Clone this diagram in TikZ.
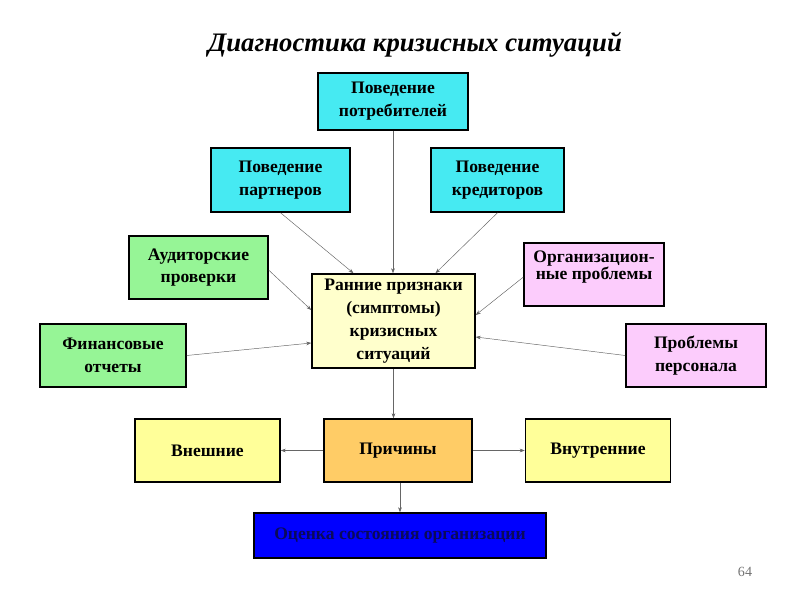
\documentclass[tikz,border=0pt]{standalone}
\usepackage{fontspec}
\setmainfont{Liberation Serif}
\usetikzlibrary{arrows.meta}

\definecolor{cyanbox}{RGB}{70,234,242}
\definecolor{greenbox}{RGB}{150,245,150}
\definecolor{pinkbox}{RGB}{252,204,252}
\definecolor{paleyellow}{RGB}{255,255,204}
\definecolor{yellowbox}{RGB}{255,255,153}
\definecolor{orangebox}{RGB}{255,204,102}
\definecolor{navytext}{RGB}{10,10,90}

\begin{document}
\begin{tikzpicture}[x=0.03cm, y=-0.03cm,
  box/.style={draw, line width=1.3pt, align=center, inner sep=2pt,
              font=\bfseries\fontsize{15}{19.5}\selectfont},
  beh/.style={box, fill=cyanbox},
  chk/.style={box, fill=greenbox},
  prob/.style={box, fill=pinkbox},
  side/.style={box, fill=yellowbox, minimum width=4.35cm, minimum height=1.89cm},
  arr/.style={-{Stealth[length=1.5mm, width=1.1mm]}, draw=black!60, thin}]
\useasboundingbox (0,0) rectangle (800,600);
% title
\node[font=\bfseries\itshape\fontsize{22.8}{27}\selectfont] (title) at (415,45) {Диагностика кризисных ситуаций};
% sources of signals
\node[beh, minimum width=4.5cm, minimum height=1.71cm] (potr) at (393,101.5) {Поведение\\потребителей};
\node[beh, minimum width=4.17cm, minimum height=1.92cm] (partn) at (280.5,180) {Поведение\\партнеров};
\node[beh, minimum width=3.99cm, minimum height=1.92cm] (kred) at (497.5,180) {Поведение\\кредиторов};
\node[chk, minimum width=4.17cm, minimum height=1.89cm] (audit) at (198.5,267.5) {Аудиторские\\проверки};
\node[chk, minimum width=4.38cm, minimum height=1.89cm] (fin) at (113,355.5) {Финансовые\\отчеты};
\node[prob, minimum width=4.2cm, minimum height=1.89cm, text depth=16pt] (org) at (594,274.5) {Организацион-\\[-5pt]ные проблемы};
\node[prob, minimum width=4.2cm, minimum height=1.89cm] (pers) at (696,355.5) {Проблемы\\персонала};
% centre
\node[box, fill=paleyellow, minimum width=4.89cm, minimum height=2.82cm] (symp) at (393.5,321) {Ранние признаки\\(симптомы)\\кризисных\\ситуаций};
% causes
\node[box, fill=orangebox, minimum width=4.44cm, minimum height=1.89cm] (prich) at (398,450.5) {Причины};
\node[side] (vnesh) at (207.5,450.5) {Внешние};
\node[side] (vnutr) at (598,450.5) {Внутренние};
\node[box, fill=blue, text=navytext, minimum width=8.76cm, minimum height=1.35cm] (ocenka) at (400,535.5) {Оценка состояния организации};
\node[text=black!55, font=\fontsize{12}{14}\selectfont] (page) at (745,572) {64};
% connectors
\draw[arr] (potr.south) -- (potr.south |- symp.north);
\draw[arr] (partn.south) -- ([xshift=-1.2cm]symp.north);
\draw[arr] (kred.south) -- ([xshift=1.26cm]symp.north);
\draw[arr] ([yshift=-0.08cm]audit.east) -- ([yshift=0.33cm]symp.west);
\draw[arr] (fin.east) -- ([yshift=-0.66cm]symp.west);
\draw[arr] ([yshift=-0.08cm]org.west) -- ([yshift=0.18cm]symp.east);
\draw[arr] (pers.west) -- ([yshift=-0.48cm]symp.east);
\draw[arr] (symp.south) -- (symp.south |- prich.north);
\draw[arr] (prich.west) -- (vnesh.east);
\draw[arr] (prich.east) -- (vnutr.west);
\draw[arr] (ocenka.north |- prich.south) -- (ocenka.north);
\end{tikzpicture}
\end{document}
